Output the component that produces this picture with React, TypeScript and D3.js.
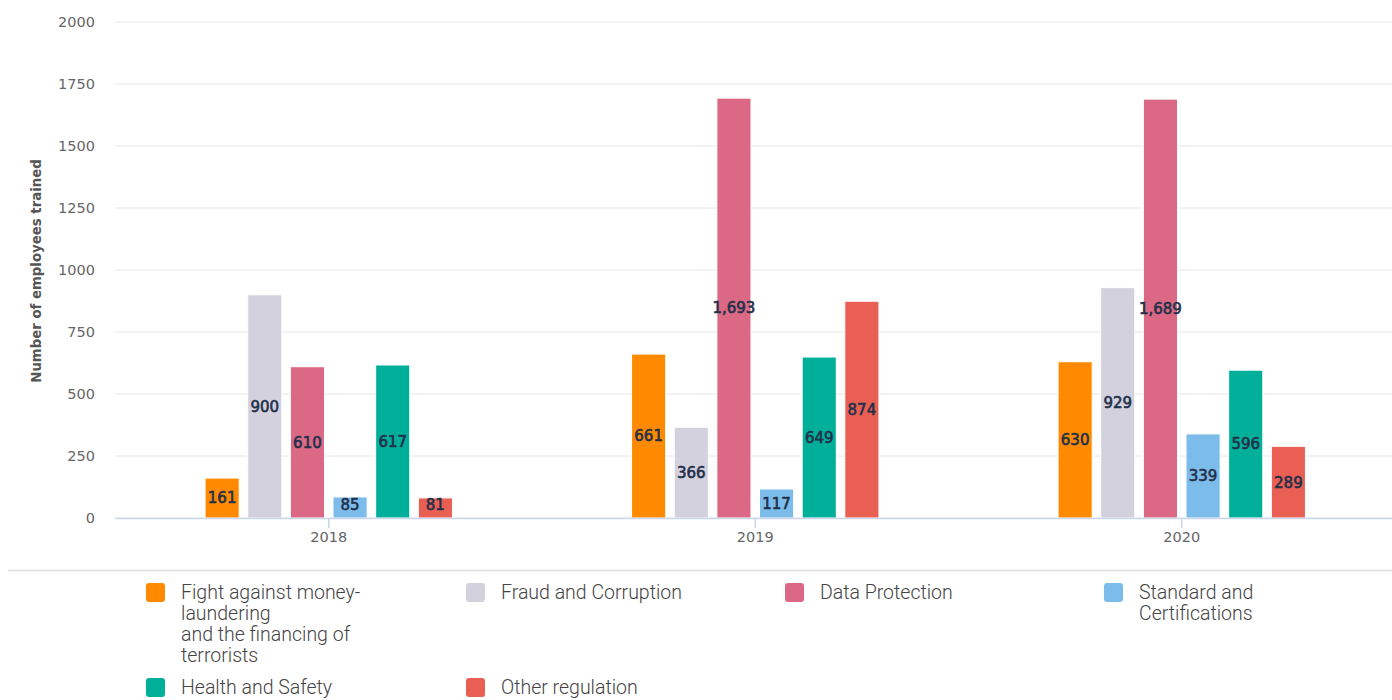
import React from "react";
import * as d3 from "d3";

const years = ["2018", "2019", "2020"];
const seriesNames = [
  "Fight against money-laundering and the financing of terrorists",
  "Fraud and Corruption",
  "Data Protection",
  "Standard and Certifications",
  "Health and Safety",
  "Other regulation",
];
const legendLines = [
  ["Fight against money-", "laundering", "and the financing of", "terrorists"],
  ["Fraud and Corruption"],
  ["Data Protection"],
  ["Standard and", "Certifications"],
  ["Health and Safety"],
  ["Other regulation"],
];
const colors = ["#FF8A00", "#D3D1DE", "#DB6985", "#7CBCEB", "#00AF9A", "#E95F53"];
const amlValues = [161, 661, 630];
const fraudValues = [900, 366, 929];
const dataProtValues = [610, 1693, 1689];
const standardValues = [85, 117, 339];
const healthValues = [617, 649, 596];
const otherValues = [81, 874, 289];
const seriesValues = [amlValues, fraudValues, dataProtValues, standardValues, healthValues, otherValues];
const yTicks = [0, 250, 500, 750, 1000, 1250, 1500, 1750, 2000];

const W = 1392;
const H = 700;
const plotLeft = 115.5;
const plotRight = 1395;
const plotTop = 22;
const plotBottom = 518;

export default function App() {
  const x0 = d3.scaleBand<string>().domain(years).range([plotLeft, plotRight]).padding(0);
  const bw = x0.bandwidth();
  const x1 = d3
    .scaleBand<string>()
    .domain(seriesNames)
    .range([bw * 0.2, bw * 0.8])
    .paddingInner(0.2)
    .paddingOuter(0.1);
  const y = d3.scaleLinear().domain([0, 2000]).range([plotBottom, plotTop]);
  const fmt = d3.format(",");

  const legendX = [146, 466, 785, 1104];
  const legendRowY = [592, 687];

  return (
    <div style={{ position: "fixed", left: 0, top: 0 }}>
      <svg width={W} height={H} style={{ display: "block", background: "#fff" }}>
        {yTicks.map((t) => (
          <line key={"g" + t} x1={plotLeft} x2={W} y1={y(t)} y2={y(t)} stroke="#e6e6e6" strokeWidth={1} />
        ))}
        {yTicks.map((t) => (
          <text
            key={"yt" + t}
            x={95}
            y={y(t)}
            dy="0.35em"
            textAnchor="end"
            fontFamily="DejaVu Sans, Verdana, sans-serif"
            fontSize={14.5}
            fill="#666"
          >
            {t}
          </text>
        ))}
        <text
          transform={`translate(41,${(plotTop + plotBottom) / 2 + 1}) rotate(-90)`}
          textAnchor="middle"
          fontFamily="DejaVu Sans, Verdana, sans-serif"
          fontWeight="bold"
          fontSize={13.3}
          fill="#555"
        >
          Number of employees trained
        </text>
        {seriesNames.map((s, si) =>
          years.map((yr, yi) => {
            const v = seriesValues[si][yi];
            const bx = (x0(yr) as number) + (x1(s) as number);
            const top = y(v);
            return (
              <rect
                key={s + yr}
                x={bx}
                y={top}
                width={x1.bandwidth()}
                height={plotBottom - top}
                fill={colors[si]}
                stroke="#fff"
                strokeWidth={1}
              />
            );
          })
        )}
        <line x1={plotLeft} x2={W} y1={plotBottom + 0.5} y2={plotBottom + 0.5} stroke="#ccd6eb" strokeWidth={1.5} />
        {years.map((yr) => {
          const cx = (x0(yr) as number) + bw / 2;
          return (
            <g key={"xt" + yr}>
              <line x1={cx} x2={cx} y1={plotBottom} y2={plotBottom + 10} stroke="#ccd6eb" strokeWidth={1.5} />
              <text
                x={cx}
                y={537}
                dy="0.35em"
                textAnchor="middle"
                fontFamily="DejaVu Sans, Verdana, sans-serif"
                fontSize={14.5}
                fill="#666"
              >
                {yr}
              </text>
            </g>
          );
        })}
        {seriesNames.map((s, si) =>
          years.map((yr, yi) => {
            const v = seriesValues[si][yi];
            const cx = (x0(yr) as number) + (x1(s) as number) + x1.bandwidth() / 2;
            const cy = Math.min((y(v) + plotBottom) / 2, plotBottom - 13);
            return (
              <text
                key={"l" + s + yr}
                x={cx}
                y={cy}
                dy="0.36em"
                textAnchor="middle"
                fontFamily="DejaVu Sans, Verdana, sans-serif"
                fontSize={15}
                fill="#22304a"
                stroke="#22304a"
                strokeWidth={0.6}
              >
                {fmt(v)}
              </text>
            );
          })
        )}
        <line x1={8} x2={W} y1={570.5} y2={570.5} stroke="#dcdcdc" strokeWidth={1.5} />
        {seriesNames.map((s, si) => {
          const col = si % 4;
          const row = Math.floor(si / 4);
          const lx = legendX[col];
          const ly = legendRowY[row];
          return (
            <g key={"lg" + s}>
              <rect x={lx} y={ly - 9} width={19} height={19} rx={3} fill={colors[si]} />
              {legendLines[si].map((ln, li) => (
                <text
                  key={li}
                  x={lx + 35}
                  y={ly + li * 21}
                  dy="0.35em"
                  fontFamily="Roboto, sans-serif"
                  fontWeight={300}
                  fontSize={19.5}
                  fill="#444"
                >
                  {ln}
                </text>
              ))}
            </g>
          );
        })}
      </svg>
    </div>
  );
}
